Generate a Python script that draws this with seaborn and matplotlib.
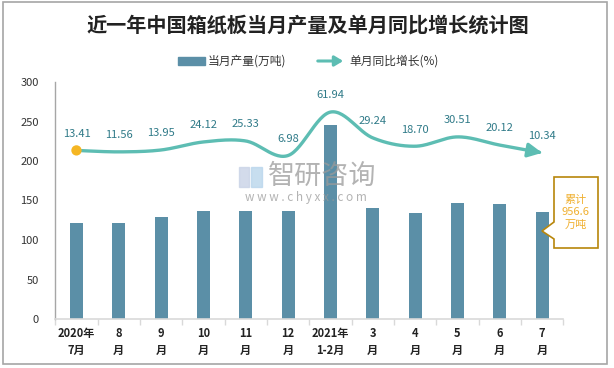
import numpy as np
import pandas as pd
import matplotlib
matplotlib.use("Agg")
import matplotlib.pyplot as plt
import seaborn as sns
from matplotlib.patches import Polygon, Rectangle

# ---- data ----
categories = ["2020年\n7月", "8\n月", "9\n月", "10\n月", "11\n月", "12\n月",
              "2021年\n1-2月", "3\n月", "4\n月", "5\n月", "6\n月", "7\n月"]
production = [121.5, 121.5, 129.0, 136.7, 136.7, 136.7, 245.6, 141.0, 134.0, 146.8, 145.6, 135.4]
growth = [13.41, 11.56, 13.95, 24.12, 25.33, 6.98, 61.94, 29.24, 18.70, 30.51, 20.12, 10.34]
growth_labels = ["13.41", "11.56", "13.95", "24.12", "25.33", "6.98", "61.94", "29.24",
                 "18.70", "30.51", "20.12", "10.34"]
y_ticks = [0, 50, 100, 150, 200, 250, 300]
title = "近一年中国箱纸板当月产量及单月同比增长统计图"
bar_name = "当月产量(万吨)"
line_name = "单月同比增长(%)"
callout_text = "累计\n956.6\n万吨"

sns.set_theme(style="white")
plt.rcParams['font.family'] = ['Noto Sans CJK SC', 'DejaVu Sans']
plt.rcParams['axes.unicode_minus'] = False

W, H = 614, 368
fig = plt.figure(figsize=(W / 100, H / 100), dpi=100)

def fx(px):
    return px / W

def fy(py):
    return 1 - py / H

ax = fig.add_axes([fx(55.3), fy(319), fx(563.3) - fx(55.3), fy(82) - fy(319)])

bar_color = "#5B8FA7"
line_color = "#5DBDB3"
label_color = "#2F7A88"

df = pd.DataFrame({"cat": categories, "val": production})
sns.barplot(data=df, x="cat", y="val", color=bar_color, width=0.31, ax=ax,
            saturation=1, zorder=2, linewidth=0)
ax.set_xlim(-0.5, len(categories) - 0.5)
ax.set_ylim(0, 300)
ax.set_yticks(y_ticks)
ax.set_yticklabels([str(t) for t in y_ticks], fontsize=8, color="#333333")
ax.set_xlabel("")
ax.set_ylabel("")
ax.set_xticks(range(len(categories)))
ax.set_xticklabels(categories, fontsize=8, fontweight="bold", color="#222222",
                   linespacing=1.35)
ax.tick_params(axis="x", which="major", length=0, pad=6)
ax.tick_params(axis="y", length=0, pad=12)
ax.set_xticks(np.arange(-0.5, len(categories), 1.0), minor=True)
ax.tick_params(axis="x", which="minor", length=4, color="#D9D9D9", width=1, bottom=True)
for s in ["top", "right"]:
    ax.spines[s].set_visible(False)
ax.spines["bottom"].set_color("#D9D9D9")
ax.spines["bottom"].set_linewidth(1.2)
ax.spines["left"].set_color("#A6A6A6")
ax.spines["left"].set_linewidth(1)
ax.grid(False)

# secondary axis for growth line
ax2 = ax.twinx()
ax2.set_ylim(-200, 100)
ax2.set_axis_off()

x = np.arange(len(growth), dtype=float)
y = np.array(growth, dtype=float)

# smooth curve (Bezier with Catmull-Rom style control points, like Excel smoothing)
xs, ys = [], []
n = len(x)
for i in range(n - 1):
    p0 = np.array([x[max(i - 1, 0)], y[max(i - 1, 0)]])
    p1 = np.array([x[i], y[i]])
    p2 = np.array([x[i + 1], y[i + 1]])
    p3 = np.array([x[min(i + 2, n - 1)], y[min(i + 2, n - 1)]])
    c1 = p1 + (p2 - p0) / 6
    c2 = p2 - (p3 - p1) / 6
    t = np.linspace(0, 1, 30)[:, None]
    pts = ((1 - t) ** 3) * p1 + 3 * ((1 - t) ** 2) * t * c1 + 3 * (1 - t) * t ** 2 * c2 + t ** 3 * p2
    if i > 0:
        pts = pts[1:]
    xs.extend(pts[:, 0])
    ys.extend(pts[:, 1])
xs = np.array(xs)
ys = np.array(ys)
ax2.plot(xs[:-3], ys[:-3], color=line_color, lw=2.4, solid_capstyle="round", zorder=3)
ax2.annotate("", xy=(xs[-1], ys[-1]), xytext=(xs[-6], ys[-6]),
             arrowprops=dict(arrowstyle="-|>,head_length=0.7,head_width=0.35",
                             color=line_color, lw=2.4, shrinkA=0, shrinkB=0), zorder=3)
ax2.scatter([x[0]], [y[0]], s=55, color="#F5B623", zorder=4, edgecolor="none")

for xi, yi, lab in zip(x, y, growth_labels):
    ax2.annotate(lab, (xi, yi), xytext=(0, 12), textcoords="offset points",
                 ha="center", va="center", fontsize=8, color=label_color)

# title
fig.text(fx(308), fy(25), title, ha="center", va="center", fontsize=14.5,
         fontweight="bold", color="#222222")

# legend (manual, figure coords)
fig.patches.append(Rectangle((fx(178), fy(65)), fx(27), fy(57) - fy(65),
                             transform=fig.transFigure, color=bar_color))
fig.text(fx(208), fy(61), bar_name, ha="left", va="center", fontsize=8.5, color="#333333")
fig.add_artist(matplotlib.patches.FancyArrowPatch(
    (fx(315), fy(61)), (fx(346), fy(61)), transform=fig.transFigure,
    arrowstyle="-|>,head_length=0.5,head_width=0.3", color=line_color, lw=2.2,
    mutation_scale=10))
fig.text(fx(349), fy(61), line_name, ha="left", va="center", fontsize=8.5, color="#333333")

# watermark (drawn over the plot, semi-transparent)
fig.patches.append(Rectangle((fx(239), fy(187)), fx(10), fy(167) - fy(187),
                             transform=fig.transFigure, color="#C9D3E6", alpha=0.8, zorder=10))
fig.patches.append(Rectangle((fx(251), fy(187)), fx(11), fy(167) - fy(187),
                             transform=fig.transFigure, color="#B9D6EC", alpha=0.8, zorder=10))
fig.text(fx(322.5), fy(176), "智研咨询", ha="center", va="center", fontsize=19.5,
         color="#9A9A9A", alpha=0.75, zorder=10)
fig.text(fx(306), fy(197), "w w w . c h y x x . c o m", ha="center", va="center",
         fontsize=8.5, color="#9A9A9A", alpha=0.75, zorder=10)

# callout
pts_px = [(554, 177), (598, 177), (598, 248), (554, 248), (554, 239), (542, 231), (554, 222)]
poly = Polygon([(fx(px), fy(py)) for px, py in pts_px], closed=True,
               transform=fig.transFigure, facecolor="white", edgecolor="#B8860B", lw=1.2,
               zorder=11)
fig.patches.append(poly)
fig.text(fx(576), fy(212.5), callout_text, ha="center", va="center", fontsize=8,
         color="#F0B030", linespacing=1.3, zorder=12)

# outer frame
fig.patches.append(Rectangle((fx(3), fy(364)), fx(604), fy(2) - fy(364),
                             transform=fig.transFigure, fill=False,
                             edgecolor="#A6A6A6", lw=1.2))

fig.savefig("out.png", dpi=100)
